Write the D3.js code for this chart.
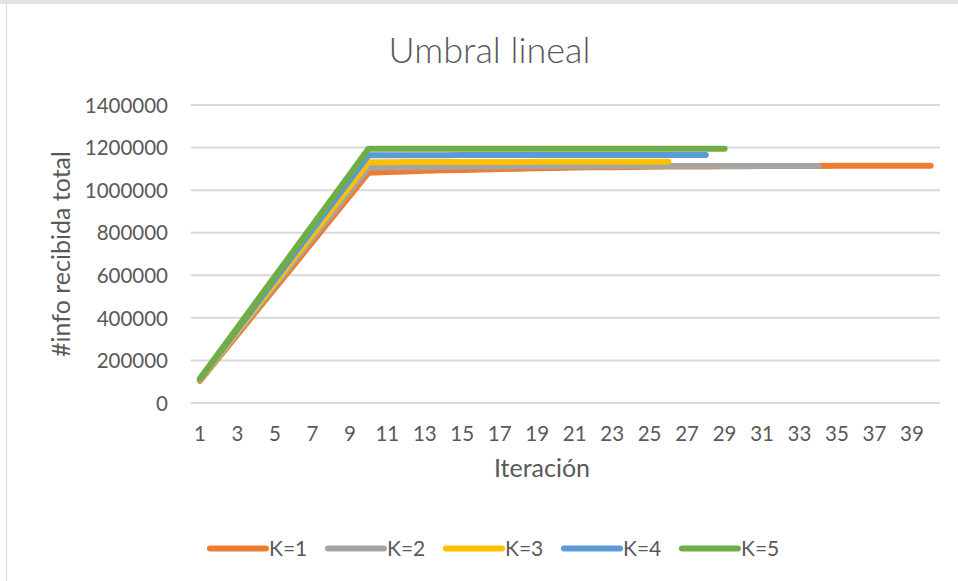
<!DOCTYPE html>
<html>
<head>
<meta charset="utf-8">
<script src="https://cdn.jsdelivr.net/npm/d3@7"></script>
<style>
  html, body { margin: 0; padding: 0; background: #fff; }
  svg { display: block; }
  text { font-family: Lato, "Open Sans", sans-serif; fill: #595959; }
</style>
</head>
<body>
<svg id="chart" width="958" height="581"></svg>
<script>
// Iterations on the horizontal axis
const iterations = d3.range(1, 41);
const xTickLabels = d3.range(1, 40, 2);
const yTickValues = [0, 200000, 400000, 600000, 800000, 1000000, 1200000, 1400000];

const seriesNames = ["K=1", "K=2", "K=3", "K=4", "K=5"];
const seriesColors = ["#ED7D31", "#A5A5A5", "#FFC000", "#5B9BD5", "#70AD47"];

// Total information received per iteration, one array per K
const k1 = [104000, 213000, 321000, 430000, 539000, 647000, 756000, 865000, 973000, 1082000,
            1085000, 1088000, 1091000, 1093000, 1095000, 1097000, 1099000, 1101000, 1103000, 1104000,
            1106000, 1107000, 1108000, 1109000, 1110000, 1110500, 1111000, 1111500, 1112000, 1112500,
            1113000, 1113500, 1114000, 1114000, 1114500, 1114500, 1115000, 1115000, 1115000, 1115000];
const k2 = [108000, 219000, 330000, 441000, 552000, 663000, 774000, 884000, 995000, 1106000,
            1107000, 1108000, 1109000, 1109500, 1110000, 1110500, 1111000, 1111500, 1112000, 1112000,
            1112500, 1112500, 1113000, 1113000, 1113000, 1113500, 1113500, 1113500, 1114000, 1114000,
            1114000, 1114000, 1114000, 1114000];
const k3 = [110000, 224000, 337000, 451000, 564000, 678000, 791000, 905000, 1018000, 1131000,
            1131500, 1132000, 1132000, 1132000, 1132500, 1132500, 1132500, 1132500, 1133000, 1133000,
            1133000, 1133000, 1133000, 1133000, 1133000, 1133000];
const k4 = [112000, 229000, 346000, 463000, 580000, 697000, 814000, 931000, 1048000, 1164000,
            1164000, 1164500, 1164500, 1164500, 1165000, 1165000, 1165000, 1165000, 1165000, 1165000,
            1165000, 1165000, 1165000, 1165000, 1165000, 1165000, 1165000, 1165000];
const k5 = [115000, 235000, 355000, 475000, 595000, 715000, 835000, 955000, 1075000, 1195000,
            1195000, 1195000, 1195000, 1195000, 1195000, 1195000, 1195000, 1195000, 1195000, 1195000,
            1195000, 1195000, 1195000, 1195000, 1195000, 1195000, 1195000, 1195000, 1195000];
const seriesValues = [k1, k2, k3, k4, k5];

const svg = d3.select("#chart");

// Chart frame
svg.append("rect").attr("x", 0).attr("y", 0).attr("width", 958).attr("height", 4).attr("fill", "#E3E3E3");
svg.append("line").attr("x1", 6.5).attr("x2", 6.5).attr("y1", 4).attr("y2", 581)
  .attr("stroke", "#D9D9D9").attr("stroke-width", 1);

const plot = { left: 190.6, right: 940, top: 105, bottom: 403 };

const x = d3.scaleBand().domain(iterations).range([plot.left, plot.right]).padding(0);
const xc = d => x(d) + x.bandwidth() / 2;
const y = d3.scaleLinear().domain([0, 1400000]).range([plot.bottom, plot.top]);

// Horizontal gridlines (the zero line doubles as the category axis)
svg.append("g")
  .selectAll("line")
  .data(yTickValues)
  .join("line")
  .attr("x1", plot.left).attr("x2", plot.right)
  .attr("y1", d => y(d)).attr("y2", d => y(d))
  .attr("stroke", "#D9D9D9").attr("stroke-width", 2);

// Value axis labels
const yAxis = d3.axisLeft(y).tickValues(yTickValues).tickFormat(d3.format("d")).tickSize(0).tickPadding(0);
const gy = svg.append("g").attr("transform", "translate(168,0)").call(yAxis);
gy.select(".domain").remove();
gy.selectAll("text").style("font-size", "20.5px").style("fill", "#595959").attr("dy", "0.35em");

// Category axis labels
const xAxis = d3.axisBottom(x).tickValues(xTickLabels).tickSize(0).tickPadding(0);
const gx = svg.append("g").attr("transform", `translate(0,${plot.bottom + 23})`).call(xAxis);
gx.select(".domain").remove();
gx.selectAll("text").style("font-size", "20.5px").style("fill", "#595959").attr("dy", "0.71em");

// Series lines
const line = d3.line().x((d, i) => xc(iterations[i])).y(d => y(d));
svg.append("g")
  .selectAll("path")
  .data(seriesValues)
  .join("path")
  .attr("d", d => line(d))
  .attr("fill", "none")
  .attr("stroke", (d, i) => seriesColors[i])
  .attr("stroke-width", 6)
  .attr("stroke-linejoin", "round")
  .attr("stroke-linecap", "round");

// Title
svg.append("text")
  .attr("x", 489.5).attr("y", 63)
  .attr("text-anchor", "middle")
  .style("font-size", "36px").style("font-weight", 300)
  .text("Umbral lineal");

// Axis titles
svg.append("text")
  .attr("transform", `translate(70,${(plot.top + plot.bottom) / 2}) rotate(-90)`)
  .attr("text-anchor", "middle")
  .style("font-size", "25px")
  .text("#info recibida total");

svg.append("text")
  .attr("x", 542).attr("y", 477)
  .attr("text-anchor", "middle")
  .style("font-size", "25px")
  .text("Iteración");

// Legend
const legend = svg.append("g")
  .selectAll("g")
  .data(seriesNames)
  .join("g")
  .attr("transform", (d, i) => `translate(${210 + i * 118},548.5)`);
legend.append("line")
  .attr("x1", 0).attr("x2", 56).attr("y1", 0).attr("y2", 0)
  .attr("stroke", (d, i) => seriesColors[i])
  .attr("stroke-width", 6).attr("stroke-linecap", "round");
legend.append("text")
  .attr("x", 59).attr("y", 0).attr("dy", "0.35em")
  .style("font-size", "21px")
  .text(d => d);
</script>
</body>
</html>
